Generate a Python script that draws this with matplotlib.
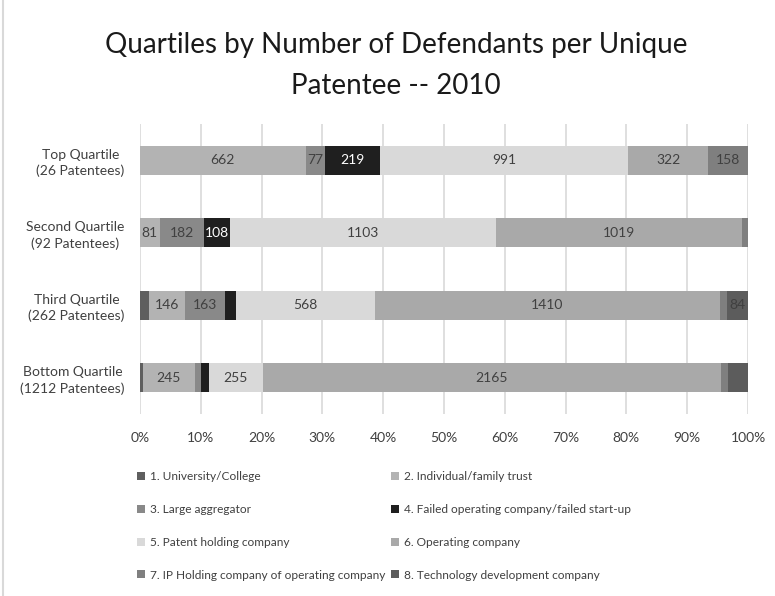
import matplotlib
matplotlib.use("Agg")
import matplotlib.pyplot as plt
import numpy as np
from matplotlib.lines import Line2D

plt.rcParams['font.family'] = ['Lato', 'DejaVu Sans']

categories = ["Top Quartile\n(26 Patentees)", "Second Quartile\n(92 Patentees)",
              "Third Quartile\n(262 Patentees)", "Bottom Quartile\n(1212 Patentees)"]
series_names = ["1. University/College", "2. Individual/family trust", "3. Large aggregator",
                "4. Failed operating company/failed start-up", "5. Patent holding company",
                "6. Operating company", "7. IP Holding company of operating company",
                "8. Technology development company"]
university = [0, 0, 37, 14]
individual = [662, 81, 146, 245]
aggregator = [77, 182, 163, 29]
failed = [219, 108, 45, 37]
patent_holding = [991, 1103, 568, 255]
operating = [322, 1019, 1410, 2165]
ip_holding = [158, 25, 30, 33]
tech_dev = [0, 0, 84, 95]
# which values carry a data label in the reference
shown = [[False, True, True, True, True, True, True, False],
         [False, True, True, True, True, True, False, False],
         [False, True, True, False, True, True, False, True],
         [False, True, False, False, True, True, False, False]]

series = [university, individual, aggregator, failed, patent_holding, operating, ip_holding, tech_dev]
colors = ["#5f5f5f", "#b3b3b3", "#898989", "#1f1f1f", "#d9d9d9", "#a9a9a9", "#7f7f7f", "#5c5c5c"]
txtcol = ["white", "#404040", "#404040", "white", "#404040", "#404040", "#404040", "#404040"]

data = np.array(series, dtype=float)
totals = data.sum(axis=0)
pct = data / totals * 100

fig = plt.figure(figsize=(7.75, 5.96), dpi=100)
ax = fig.add_axes([140/775, 1-414/596, 608/775, 290/596])

ypos = np.arange(len(categories))[::-1]
left = np.zeros(len(categories))
handles = []
for i, (name, col) in enumerate(zip(series_names, colors)):
    bars = ax.barh(ypos, pct[i], left=left, height=0.4, color=col, edgecolor='none', zorder=3, label=name)
    for j in range(len(categories)):
        if shown[j][i] and data[i, j] > 0:
            ax.text(left[j] + pct[i, j]/2, ypos[j], f"{int(data[i, j])}", ha='center', va='center',
                    fontsize=10, color=txtcol[i], zorder=4)
    left += pct[i]
    handles.append(bars)

ax.set_xlim(0, 100)
ax.set_ylim(-0.5, 3.5)
ax.set_xticks(np.arange(0, 101, 10))
ax.set_xticklabels([f"{v}%" for v in range(0, 101, 10)], fontsize=10, color="#404040")
ax.set_yticks(ypos)
ax.set_yticklabels(categories, fontsize=10, color="#404040", ha='right', multialignment='center',
                   linespacing=1.35)
ax.tick_params(axis='y', length=0, pad=11)
ax.tick_params(axis='x', length=0, pad=13)
ax.xaxis.grid(True, color="#d9d9d9", linewidth=1.2, zorder=0)
for s in ax.spines.values():
    s.set_visible(False)

fig.text(396/775, 1-45/596, "Quartiles by Number of Defendants per Unique", ha='center', va='center',
         fontsize=20, color="#1a1a1a")
fig.text(396/775, 1-86/596, "Patentee -- 2010", ha='center', va='center', fontsize=20, color="#1a1a1a")

for col_idx, x0 in enumerate([137, 391]):
    idx = [col_idx, col_idx + 2, col_idx + 4, col_idx + 6]
    fig.legend([handles[k] for k in idx], [series_names[k] for k in idx], ncol=1,
               loc='upper left', bbox_to_anchor=(x0/775, 1-471/596), frameon=False,
               fontsize=8.6, handlelength=0.65, handleheight=0.65, handletextpad=0.4,
               labelspacing=1.83, labelcolor="#404040", borderpad=0, borderaxespad=0)

fig.add_artist(Line2D([3/775, 3/775], [0, 1], color="#d9d9d9", linewidth=1.5))

fig.savefig("out.png", dpi=100)
